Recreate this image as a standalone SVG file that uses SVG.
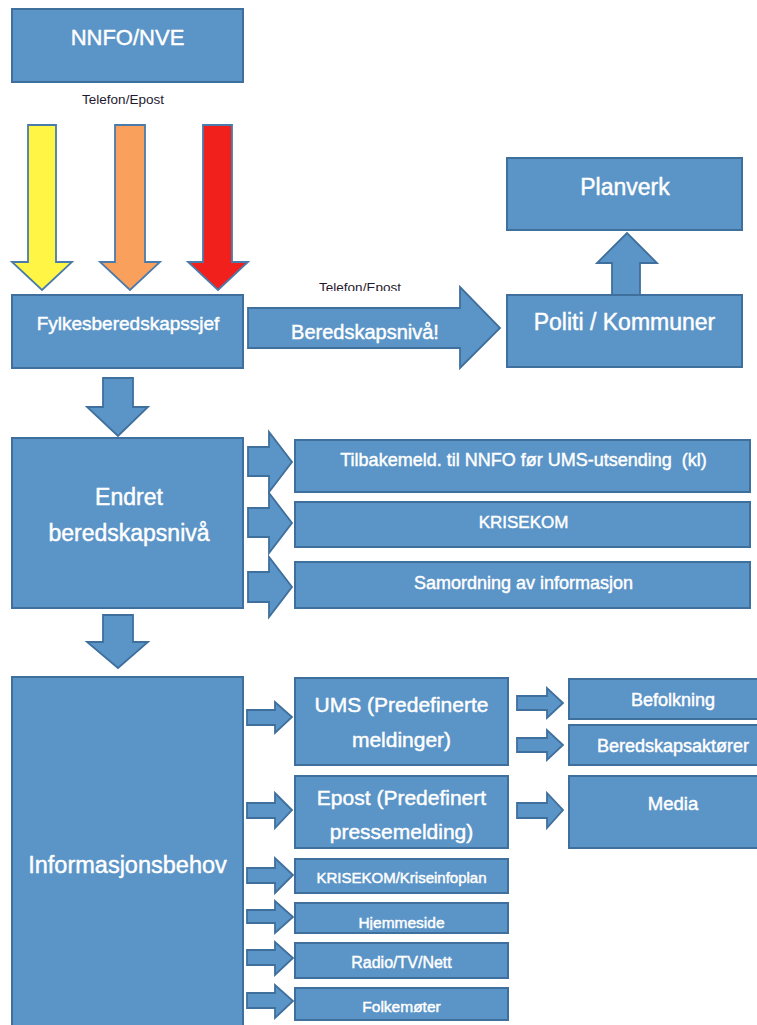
<svg xmlns="http://www.w3.org/2000/svg" width="757" height="1025" viewBox="0 0 757 1025">
<style>
.box{fill:#5B94C6;stroke:#3F6F9C;stroke-width:2}
.arr{fill:#5B94C6;stroke:#3F6F9C;stroke-width:1.8;stroke-linejoin:miter}
.t{font-family:"Liberation Sans",Arial,sans-serif;fill:#ffffff;stroke:#ffffff;stroke-width:0.45;text-anchor:middle}
.lbl{font-family:"Liberation Sans",Arial,sans-serif;fill:#1f1a2e;text-anchor:middle;font-size:13.5px}
</style>
<defs>
<clipPath id="clipH"><rect x="295" y="903" width="213" height="27"/></clipPath>
<clipPath id="clipT"><rect x="300" y="270" width="130" height="21"/></clipPath>
</defs>
<rect width="757" height="1025" fill="#ffffff"/>

<g id="connectors">
  <polygon points="28,125 56,125 56,262 72,262 42,290 12,262 28,262" fill="#FFF545" stroke="#4A7BAA" stroke-width="1.8"/>
  <polygon points="115,125 145,125 145,262 160,262 130,290 100,262 115,262" fill="#F9A05C" stroke="#4A7BAA" stroke-width="1.8"/>
  <polygon points="203,125 232,125 232,262 248,262 218,290 188,262 203,262" fill="#F2201C" stroke="#4A7BAA" stroke-width="1.8"/>
  <polygon class="arr" points="248,308 460,308 460,287 500,328 460,368 460,348 248,348"/>
  <polygon class="arr" points="612,295 612,263 597,263 627,233 657,263 640,263 640,295"/>
  <polygon class="arr" points="103,378 133,378 133,407 148,407 118,436 87,407 103,407"/>
  <polygon class="arr" points="103,615 133,615 133,642 148,642 118,668 87,642 103,642"/>
  <polygon class="arr" points="248,447 269,447 269,432 292,462 269,492 269,476 248,476"/>
  <polygon class="arr" points="248,508 269,508 269,493 292,523 269,553 269,537 248,537"/>
  <polygon class="arr" points="248,572 269,572 269,557 292,587 269,617 269,602 248,602"/>
  <polygon class="arr" points="247,710 275,710 275,702 292,717 275,733 275,725 247,725"/>
  <polygon class="arr" points="247,803 275,803 275,793 292,810 275,828 275,818 247,818"/>
  <polygon class="arr" points="517,696 547,696 547,688 563,703 547,718 547,710 517,710"/>
  <polygon class="arr" points="517,738 547,738 547,730 563,745 547,760 547,752 517,752"/>
  <polygon class="arr" points="517,803 547,803 547,793 563,810 547,828 547,818 517,818"/>
  <polygon class="arr" points="247,868 275,868 275,858 293,875 275,893 275,883 247,883"/>
  <polygon class="arr" points="247,910 275,910 275,901 293,917 275,933 275,923 247,923"/>
  <polygon class="arr" points="247,950 275,950 275,942 293,958 275,975 275,965 247,965"/>
  <polygon class="arr" points="247,993 275,993 275,985 293,1001 275,1018 275,1008 247,1008"/>
</g>

<g id="nnfo"><rect class="box" x="12" y="9" width="231" height="73"/><text class="t" x="127.5" y="45" font-size="22">NNFO/NVE</text></g>
<text class="lbl" x="123" y="104">Telefon/Epost</text>
<g id="fylkes"><rect class="box" x="12" y="295" width="231" height="73"/><text class="t" x="128" y="330" font-size="19">Fylkesberedskapssjef</text></g>
<text class="t" x="365" y="339" font-size="20">Beredskapsnivå!</text>
<text class="lbl" x="360" y="292" clip-path="url(#clipT)">Telefon/Epost</text>
<g id="planverk"><rect class="box" x="507" y="158" width="235" height="72"/><text class="t" x="625" y="195" font-size="23">Planverk</text></g>
<g id="politi"><rect class="box" x="507" y="295" width="235" height="72"/><text class="t" x="624.5" y="330" font-size="23">Politi / Kommuner</text></g>

<g id="endret"><rect class="box" x="12" y="438" width="231" height="170"/>
<text class="t" x="129" y="505" font-size="23">Endret</text>
<text class="t" x="129" y="541" font-size="23">beredskapsnivå</text></g>
<g id="tilbake"><rect class="box" x="295" y="440" width="455" height="52"/><text class="t" x="523.5" y="466" font-size="18" xml:space="preserve">Tilbakemeld. til NNFO før UMS-utsending  (kl)</text></g>
<g id="krisekom"><rect class="box" x="295" y="502" width="455" height="45"/><text class="t" x="523.5" y="528" font-size="17">KRISEKOM</text></g>
<g id="samordning"><rect class="box" x="295" y="562" width="455" height="46"/><text class="t" x="523.5" y="589" font-size="18">Samordning av informasjon</text></g>

<g id="info"><rect class="box" x="12" y="677" width="231" height="360"/><text class="t" x="127.5" y="873" font-size="23.5">Informasjonsbehov</text></g>
<g id="ums"><rect class="box" x="295" y="678" width="213" height="87"/>
<text class="t" x="401.5" y="712" font-size="21">UMS (Predefinerte</text>
<text class="t" x="401.5" y="747" font-size="21">meldinger)</text></g>
<g id="epost"><rect class="box" x="295" y="776" width="213" height="72"/>
<text class="t" x="401.5" y="805" font-size="21">Epost (Predefinert</text>
<text class="t" x="401.5" y="839" font-size="21">pressemelding)</text></g>
<g id="befolkning"><rect class="box" x="569" y="679" width="200" height="40"/><text class="t" x="673" y="706" font-size="18">Befolkning</text></g>
<g id="beredskapsaktorer"><rect class="box" x="569" y="725" width="200" height="40"/><text class="t" x="673" y="752" font-size="18">Beredskapsaktører</text></g>
<g id="media"><rect class="box" x="569" y="776" width="200" height="72"/><text class="t" x="673" y="810" font-size="18.5">Media</text></g>
<g id="kriseinfoplan"><rect class="box" x="295" y="859" width="213" height="34"/><text class="t" x="401.5" y="883" font-size="15">KRISEKOM/Kriseinfoplan</text></g>
<g id="hjemmeside"><rect class="box" x="295" y="903" width="213" height="30"/><text class="t" x="401.5" y="928" font-size="15.5" clip-path="url(#clipH)">Hjemmeside</text></g>
<g id="radio"><rect class="box" x="295" y="943" width="213" height="35"/><text class="t" x="401.5" y="968" font-size="16">Radio/TV/Nett</text></g>
<g id="folkemoter"><rect class="box" x="295" y="988" width="213" height="32"/><text class="t" x="401.5" y="1012" font-size="15.5">Folkemøter</text></g>
</svg>
